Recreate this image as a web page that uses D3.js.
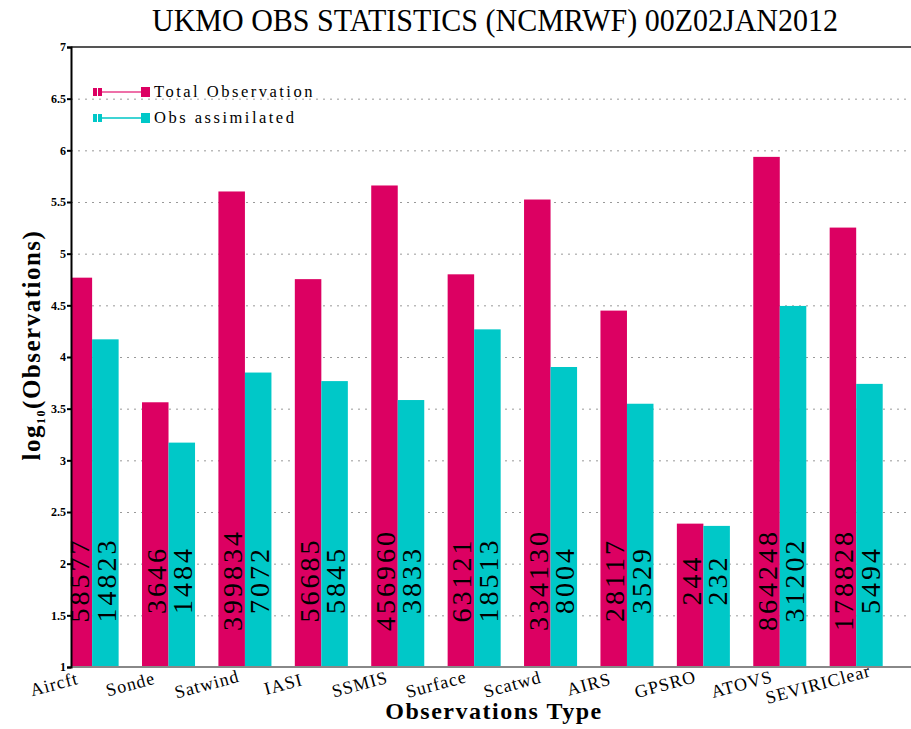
<!DOCTYPE html>
<html>
<head>
<meta charset="utf-8">
<script src="https://cdn.jsdelivr.net/npm/d3@7"></script>
<style>
  body { margin: 0; background: #fff; }
  svg { display: block; }
</style>
</head>
<body>
<div id="graph"></div>
<script>
// observation counts per type, bar height is log10 of the count
var categories = ["Aircft", "Sonde", "Satwind", "IASI", "SSMIS", "Surface", "Scatwd", "AIRS", "GPSRO", "ATOVS", "SEVIRIClear"];
var totalObs = [58577, 3646, 399834, 56685, 456960, 63121, 334130, 28117, 244, 864248, 178828];
var assimObs = [14823, 1484, 7072, 5845, 3833, 18513, 8004, 3529, 232, 31202, 5494];
var yTicks = [1, 1.5, 2, 2.5, 3, 3.5, 4, 4.5, 5, 5.5, 6, 6.5, 7];
var seriesNames = ["Total Observation", "Obs assimilated"];

var w = 911, h = 729,
    padL = 71, padT = 47, padB = 667, padR = 911,
    pink = "#dc0062", cyan = "#00c8c8";

var svg = d3.select("#graph").append("svg")
  .attr("width", w).attr("height", h);

var y = d3.scaleLinear().domain([1, 7]).range([padB, padT]);
var x = d3.scaleBand().domain(categories).range([65.6, 882.7]).paddingInner(0.306).paddingOuter(0);
var xs = d3.scaleBand().domain([0, 1]).range([0, x.bandwidth()]);

svg.append("clipPath").attr("id", "plot")
  .append("rect").attr("x", padL).attr("y", 0).attr("width", padR - padL).attr("height", padB);

// title
svg.append("text")
  .attr("x", 152).attr("y", 31)
  .attr("textLength", 686).attr("lengthAdjust", "spacingAndGlyphs")
  .attr("font-family", "Liberation Serif").attr("font-size", 31)
  .text("UKMO OBS STATISTICS (NCMRWF) 00Z02JAN2012");

// grid lines
svg.append("g")
  .attr("transform", "translate(" + padL + ",0)")
  .call(d3.axisLeft(y).tickValues(yTicks.slice(1, -1)).tickSize(-(padR - padL)).tickFormat(""))
  .call(function (g) {
    g.select(".domain").remove();
    g.selectAll("line").attr("stroke", "#999").attr("stroke-dasharray", "2,5");
  });

// top frame line
svg.append("line")
  .attr("x1", padL).attr("x2", padR).attr("y1", y(7)).attr("y2", y(7))
  .attr("stroke", "#555").attr("stroke-width", 2);

// bars
var groups = svg.append("g")
  .selectAll("g").data(categories).enter().append("g")
  .attr("transform", function (d) { return "translate(" + x(d) + ",0)"; });

groups.append("g").attr("clip-path", "url(#plot)")
  .attr("transform", function (d) { return "translate(" + (-x(d)) + ",0)"; })
  .selectAll("rect")
  .data(function (d, i) { return [totalObs[i], assimObs[i]].map(function (v) { return { v: v, x0: x(d) }; }); })
  .enter().append("rect")
  .attr("x", function (d, j) { return d.x0 + xs(j); })
  .attr("width", xs.bandwidth())
  .attr("y", function (d) { return y(Math.log10(d.v)); })
  .attr("height", function (d) { return y(1) - y(Math.log10(d.v)); })
  .attr("fill", function (d, j) { return j ? cyan : pink; });

groups.selectAll("text")
  .data(function (d, i) { return [totalObs[i], assimObs[i]]; })
  .enter().append("text")
  .attr("transform", function (d, j) {
    return "translate(" + (xs(j) + xs.bandwidth() / 2 + 1) + ",580) rotate(-90)";
  })
  .attr("text-anchor", "middle").attr("dominant-baseline", "central")
  .attr("font-family", "Liberation Serif").attr("font-size", 28)
  .attr("letter-spacing", 3)
  .attr("fill", "#000")
  .text(function (d) { return d; });

// bottom axis line
svg.append("line")
  .attr("x1", padL).attr("x2", padR).attr("y1", padB).attr("y2", padB)
  .attr("stroke", "#888").attr("stroke-width", 2);

// y axis
svg.append("g")
  .attr("transform", "translate(" + padL + ",0)")
  .call(d3.axisLeft(y).tickValues(yTicks).tickSize(4).tickFormat(function (d) { return d; }))
  .call(function (g) {
    g.select(".domain").attr("stroke", "#000").attr("stroke-width", 2);
    g.selectAll("line").attr("stroke", "#000").attr("stroke-width", 2);
    g.selectAll("text").attr("font-family", "Liberation Serif").attr("font-weight", "bold")
      .attr("font-size", 12).attr("x", -5);
  });

// x labels
svg.append("g").selectAll("text")
  .data(categories).enter().append("text")
  .attr("transform", function (d) { return "translate(" + (x(d) - 10) + ",690) rotate(-15)"; })
  .attr("text-anchor", "middle")
  .attr("font-family", "Liberation Serif").attr("font-size", 18)
  .attr("letter-spacing", 1)
  .text(function (d) { return d; });

// axis titles
svg.append("text")
  .attr("x", 494).attr("y", 719).attr("text-anchor", "middle")
  .attr("font-family", "Liberation Serif").attr("font-weight", "bold").attr("font-size", 24)
  .attr("letter-spacing", 1.5)
  .text("Observations Type");

var yt = svg.append("text")
  .attr("transform", "translate(40,345) rotate(-90)").attr("text-anchor", "middle")
  .attr("font-family", "Liberation Serif").attr("font-weight", "bold").attr("font-size", 25)
  .attr("letter-spacing", 1.5);
yt.append("tspan").text("log");
yt.append("tspan").attr("font-size", 12).attr("dy", 5).text("10");
yt.append("tspan").attr("dy", -5).text("(Observations)");

// legend
var legend = svg.append("g").selectAll("g")
  .data(seriesNames).enter().append("g")
  .attr("transform", function (d, i) { return "translate(0," + (92 + i * 26) + ")"; });

legend.append("line")
  .attr("x1", 101).attr("x2", 142).attr("y1", 0).attr("y2", 0)
  .attr("stroke", function (d, i) { return i ? "#3fd4d4" : "#ee70a8"; }).attr("stroke-width", 2);
legend.append("rect").attr("x", 93).attr("y", -4).attr("width", 4).attr("height", 8)
  .attr("fill", function (d, i) { return i ? cyan : pink; });
legend.append("rect").attr("x", 98).attr("y", -4).attr("width", 4).attr("height", 8)
  .attr("fill", function (d, i) { return i ? cyan : pink; });
legend.append("rect").attr("x", 141).attr("y", -5).attr("width", 9).attr("height", 10)
  .attr("fill", function (d, i) { return i ? cyan : pink; });
legend.append("text")
  .attr("x", 154).attr("y", 5)
  .attr("font-family", "Liberation Serif").attr("font-size", 16.5)
  .attr("letter-spacing", 2.5)
  .text(function (d) { return d; });
</script>
</body>
</html>
